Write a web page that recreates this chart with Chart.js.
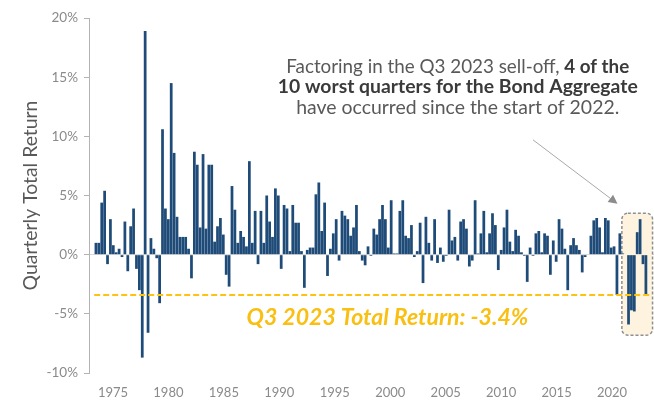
<!DOCTYPE html>
<html>
<head>
<meta charset="utf-8">
<script src="https://cdn.jsdelivr.net/npm/chart.js@4.4.0/dist/chart.umd.min.js"></script>
<style>
  html, body { margin: 0; padding: 0; background: #ffffff; }
  #wrap { width: 654px; height: 407px; position: relative; }
</style>
</head>
<body>
<div id="wrap"><canvas id="c" width="654" height="407"></canvas></div>
<script>
// ---------------- DATA ----------------
const startYear = 1976;

// Quarterly total return (%) of the Bond Aggregate, 1976 Q1 .. 2023 Q3 (one row per year)
const quarterlyReturns = [
  1.0, 1.0, 4.4, 5.4,      // 1976
  -0.8, 3.0, 0.8, 0.2,     // 1977
  0.5, -0.2, 2.8, -1.4,    // 1978
  2.4, 3.9, -1.2, -3.0,    // 1979
  -8.7, 18.9, -6.6, 1.4,   // 1980
  0.5, -0.3, -4.1, 10.6,   // 1981
  3.9, 3.0, 14.5, 8.6,     // 1982
  3.2, 1.5, 1.5, 1.5,      // 1983
  0.5, -2.0, 8.7, 7.6,     // 1984
  2.3, 8.5, 2.2, 7.6,      // 1985
  7.6, 1.1, 2.4, 3.1,      // 1986
  1.7, -1.7, -2.7, 5.8,    // 1987
  3.8, 1.0, 2.0, 1.5,      // 1988
  0.7, 7.9, 1.0, 3.7,      // 1989
  -0.8, 3.7, 1.0, 5.0,     // 1990
  2.8, 1.5, 5.6, 5.0,      // 1991
  -1.2, 4.2, 3.9, 0.3,     // 1992
  4.2, 2.7, 2.7, 0.3,      // 1993
  -2.8, 0.4, 0.6, 0.6,     // 1994
  5.1, 6.1, 2.0, 4.4,      // 1995
  -1.8, 0.5, 1.8, 3.0,     // 1996
  -0.5, 3.7, 3.3, 3.0,     // 1997
  1.6, 2.3, 4.2, 0.3,      // 1998
  -0.5, -0.9, 0.7, -0.1,   // 1999
  2.2, 1.7, 3.0, 4.2,      // 2000
  3.0, 0.6, 4.6, 0.1,      // 2001
  0.1, 3.7, 4.6, 1.6,      // 2002
  1.4, 2.5, -0.2, 0.3,     // 2003
  2.7, -2.4, 3.2, 1.0,     // 2004
  -0.5, 3.0, -0.7, 0.6,    // 2005
  -0.6, -0.1, 3.8, 1.2,    // 2006
  1.5, -0.5, 2.8, 3.0,     // 2007
  2.2, -1.0, -0.5, 4.6,    // 2008
  0.1, 1.8, 3.7, 0.2,      // 2009
  1.8, 3.5, 2.5, -1.3,     // 2010
  0.4, 2.3, 3.8, 1.1,      // 2011
  0.3, 2.1, 1.6, 0.2,      // 2012
  -0.1, -2.3, 0.6, -0.1,   // 2013
  1.8, 2.0, 0.2, 1.8,      // 2014
  1.6, -1.7, 1.2, -0.6,    // 2015
  3.0, 2.2, 0.5, -3.0,     // 2016
  0.8, 1.4, 0.8, 0.4,      // 2017
  -1.5, -0.2, 0.0, 1.6,    // 2018
  2.9, 3.1, 2.3, 0.2,      // 2019
  3.1, 2.9, 0.6, 0.7,      // 2020
  -3.4, 1.8, 0.1, 0.0,     // 2021
  -5.9, -4.7, -4.8, 1.9,   // 2022
  3.0, -0.8, -3.4          // 2023
];

// Category labels (quarters)
const quarterLabels = quarterlyReturns.map((_, i) => (startYear + Math.floor(i / 4)) + ' Q' + (i % 4 + 1));

// Axis tick labels
const yearTickLabels = [1975, 1980, 1985, 1990, 1995, 2000, 2005, 2010, 2015, 2020];
const yTickValues = [-10, -5, 0, 5, 10, 15, 20];

// Reference value
const q3_2023_return = -3.4;

// Annotation text
const noteLines = [
  [{ t: 'Factoring in the Q3 2023 sell-off, ', b: false }, { t: '4 of the', b: true }],
  [{ t: '10 worst quarters for the Bond Aggregate', b: true }],
  [{ t: 'have occurred since the start of 2022.', b: false }]
];
const noteLineWidths = [343, 360, 323];
const refLabel = 'Q3 2023 Total Return: ' + q3_2023_return.toFixed(1) + '%';

// ---------------- LAYOUT / STYLE ----------------
const FONT = 'Lato';
const N = quarterlyReturns.length;
const mctx = document.createElement('canvas').getContext('2d');
function fitSize(text, weight, style, target) {
  mctx.font = style + ' ' + weight + ' 100px ' + FONT;
  return 100 * target / mctx.measureText(text).width;
}
const yTitleSize = fitSize('Quarterly Total Return', 'normal', 'normal', 190);
const noteSize = fitSize(noteLines[2][0].t, 'normal', 'normal', 323);
const refSize = fitSize(refLabel, 'bold', 'italic', 282);

const idx2022 = quarterLabels.indexOf('2022 Q1');

const annotPlugin = {
  id: 'annot',
  beforeDatasetsDraw(chart) {
    const { ctx, scales: { x, y } } = chart;
    const l = x.getPixelForValue(idx2022 - 2.3);
    const r = x.getPixelForValue(N - 1 + 2.3);
    const t = y.getPixelForValue(3.5);
    const b = y.getPixelForValue(-6.8);
    ctx.save();
    ctx.beginPath();
    ctx.roundRect(l, t, r - l, b - t, 6);
    ctx.fillStyle = '#FDF3DE';
    ctx.fill();
    ctx.setLineDash([3, 2]);
    ctx.lineWidth = 1.5;
    ctx.strokeStyle = '#8f8f8f';
    ctx.stroke();
    ctx.restore();
  },
  afterDraw(chart) {
    const { ctx, scales: { x, y } } = chart;
    ctx.save();
    // multi-line note
    const cx = x.getPixelForValue(125.0);
    let cy = y.getPixelForValue(15.9);
    ctx.textBaseline = 'middle';
    ctx.textAlign = 'left';
    noteLines.forEach((line, li) => {
      let total = 0;
      line.forEach(run => {
        ctx.font = (run.b ? 'bold ' : 'normal ') + noteSize + 'px ' + FONT;
        run.w = ctx.measureText(run.t).width;
        total += run.w;
      });
      const sx = noteLineWidths[li] / total;
      ctx.save();
      ctx.translate(cx - noteLineWidths[li] / 2, cy);
      ctx.scale(sx, 1);
      let px = 0;
      line.forEach(run => {
        ctx.font = (run.b ? 'bold ' : 'normal ') + noteSize + 'px ' + FONT;
        ctx.fillStyle = run.b ? '#3a3a3a' : '#595959';
        ctx.fillText(run.t, px, 0);
        px += run.w;
      });
      ctx.restore();
      cy += 20.5;
    });
    // arrow
    const x0 = x.getPixelForValue(151), y0 = y.getPixelForValue(9.7);
    const x1 = x.getPixelForValue(180.2), y1 = y.getPixelForValue(4.3);
    const ang = Math.atan2(y1 - y0, x1 - x0);
    const hl = 9, hw = 4.5;
    const bx = x1 - hl * Math.cos(ang), by = y1 - hl * Math.sin(ang);
    ctx.strokeStyle = '#a8a8a8';
    ctx.lineWidth = 1;
    ctx.beginPath();
    ctx.moveTo(x0, y0);
    ctx.lineTo(bx, by);
    ctx.stroke();
    ctx.fillStyle = '#8c8c8c';
    ctx.beginPath();
    ctx.moveTo(x1, y1);
    ctx.lineTo(bx + hw * Math.sin(ang), by - hw * Math.cos(ang));
    ctx.lineTo(bx - hw * Math.sin(ang), by + hw * Math.cos(ang));
    ctx.closePath();
    ctx.fill();
    // reference label
    ctx.font = 'italic bold ' + refSize + 'px ' + FONT;
    ctx.fillStyle = '#F9BF12';
    ctx.textAlign = 'center';
    ctx.fillText(refLabel, x.getPixelForValue(100.7), y.getPixelForValue(-5.3));
    ctx.restore();
  }
};

new Chart(document.getElementById('c'), {
  data: {
    labels: quarterLabels,
    datasets: [
      {
        type: 'bar',
        label: 'Quarterly Total Return',
        data: quarterlyReturns.map((v, i) => ({ x: i, y: v })),
        backgroundColor: '#1F4B78',
        barPercentage: 1,
        categoryPercentage: 0.95,
        order: 2,
        xAxisID: 'x',
        yAxisID: 'y'
      },
      {
        type: 'line',
        label: refLabel,
        data: [{ x: -0.6, y: q3_2023_return }, { x: N + 0.6, y: q3_2023_return }],
        borderColor: '#FFC20E',
        borderWidth: 2,
        borderDash: [6, 3],
        pointRadius: 0,
        tension: 0,
        order: 1,
        xAxisID: 'x',
        yAxisID: 'y'
      }
    ]
  },
  options: {
    responsive: false,
    animation: false,
    devicePixelRatio: 1,
    layout: { padding: { left: 0, right: 0, top: 18, bottom: 0 } },
    plugins: { legend: { display: false }, tooltip: { enabled: false } },
    scales: {
      x: {
        type: 'linear',
        display: false,
        offset: false,
        min: -2.4,
        max: N + 1.8
      },
      years: {
        type: 'linear',
        axis: 'x',
        position: 'bottom',
        offset: false,
        min: 1972.84,
        max: 2023.78,
        grid: { display: false, drawTicks: false },
        border: { display: false },
        afterBuildTicks: s => { s.ticks = yearTickLabels.map(v => ({ value: v })); },
        afterFit: s => { s.height = 34; },
        ticks: {
          autoSkip: false,
          maxRotation: 0,
          padding: 12,
          color: '#8a8a8a',
          font: { family: FONT, size: 13 },
          callback: v => String(v)
        }
      },
      y: {
        type: 'linear',
        position: 'left',
        min: -10,
        max: 20,
        afterBuildTicks: s => { s.ticks = yTickValues.map(v => ({ value: v })); },
        afterFit: s => { s.width = 89; },
        grid: {
          drawOnChartArea: true,
          drawTicks: true,
          tickLength: 5,
          tickColor: '#b3b3b3',
          color: c => (c.tick && c.tick.value === 0) ? '#d9d9d9' : 'rgba(0,0,0,0)'
        },
        border: { display: true, color: '#b3b3b3', width: 1 },
        ticks: {
          padding: 6,
          color: '#8a8a8a',
          font: { family: FONT, size: 13.5 },
          callback: v => v + '%'
        },
        title: {
          display: true,
          text: 'Quarterly Total Return',
          color: '#595959',
          font: { family: FONT, size: yTitleSize },
          padding: { top: 19, bottom: 0 }
        }
      }
    }
  },
  plugins: [annotPlugin]
});
</script>
</body>
</html>
